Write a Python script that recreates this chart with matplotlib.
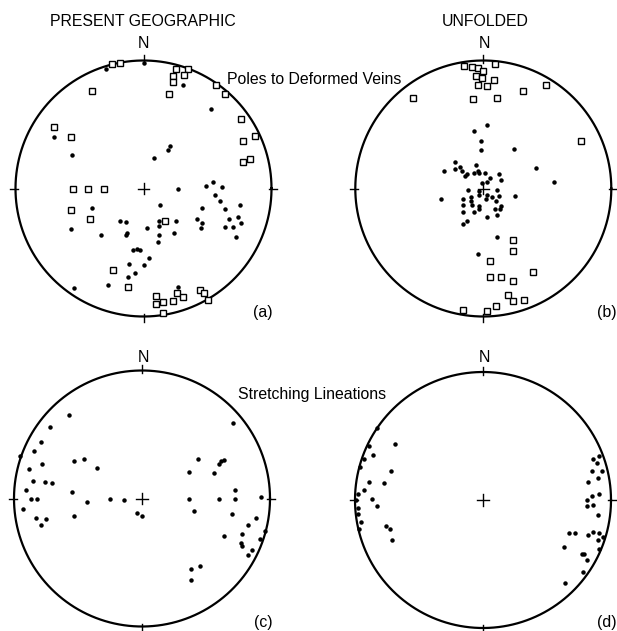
import numpy as np
import matplotlib.pyplot as plt

plt.rcParams['font.family'] = ['Liberation Sans', 'DejaVu Sans']

# poles to deformed veins, present geographic (east, north on a unit net)
geo_vein_sq = [
    (-0.25, 0.97), (-0.18, 0.98), (0.25, 0.93), (0.23, 0.88), (0.23, 0.83),
    (0.20, 0.74), (0.35, 0.93), (0.32, 0.89), (0.57, 0.81), (0.64, 0.74),
    (-0.40, 0.76), (0.76, 0.54), (0.87, 0.41), (0.78, 0.37), (0.83, 0.23),
    (0.78, 0.21), (-0.70, 0.48), (-0.57, 0.40), (-0.55, 0.00), (-0.43, 0.00),
    (-0.31, 0.00), (-0.57, -0.17), (-0.42, -0.24), (0.17, -0.25), (-0.24, -0.64),
    (-0.12, -0.77), (0.26, -0.82), (0.23, -0.88), (0.31, -0.85), (0.10, -0.84),
    (0.10, -0.90), (0.15, -0.89), (0.15, -0.97), (0.44, -0.79), (0.47, -0.82),
    (0.50, -0.87),
]
geo_vein_dot = [
    (-0.29, 0.93), (0.00, 0.98), (0.31, 0.81), (0.53, 0.62), (-0.70, 0.40),
    (-0.56, 0.26), (0.21, 0.33), (0.19, 0.30), (0.08, 0.24), (0.27, 0.00),
    (0.49, 0.02), (0.54, 0.05), (0.61, 0.01), (0.56, -0.05), (0.60, -0.10),
    (0.64, -0.16), (0.75, -0.13), (0.46, -0.15), (0.67, -0.24), (0.74, -0.22),
    (0.64, -0.30), (0.70, -0.30), (0.76, -0.27), (0.72, -0.38), (0.42, -0.24),
    (0.46, -0.27), (0.45, -0.31), (0.13, -0.13), (0.12, -0.25), (0.12, -0.29),
    (0.25, -0.25), (0.12, -0.36), (0.11, -0.42), (0.24, -0.35), (0.03, -0.31),
    (-0.40, -0.15), (-0.57, -0.32), (-0.33, -0.36), (-0.18, -0.25), (-0.14, -0.26),
    (-0.14, -0.36), (-0.13, -0.35), (-0.08, -0.48), (-0.05, -0.47), (-0.03, -0.48),
    (0.04, -0.54), (-0.11, -0.59), (0.00, -0.60), (-0.07, -0.66), (-0.12, -0.69),
    (-0.28, -0.75), (-0.54, -0.78), (0.27, -0.77),
]

# poles to deformed veins, unfolded
unf_vein_sq = [
    (-0.15, 0.96), (-0.09, 0.95), (-0.04, 0.94), (0.00, 0.92), (0.09, 0.97),
    (-0.06, 0.88), (-0.01, 0.86), (-0.04, 0.81), (0.03, 0.80), (0.08, 0.85),
    (-0.08, 0.70), (0.11, 0.71), (0.31, 0.76), (0.49, 0.81), (-0.55, 0.71),
    (0.76, 0.37), (0.23, -0.40), (0.23, -0.49), (0.05, -0.57), (0.39, -0.65),
    (0.05, -0.69), (0.14, -0.69), (0.23, -0.72), (0.19, -0.83), (0.23, -0.88),
    (0.32, -0.87), (0.10, -0.92), (0.03, -0.96), (-0.16, -0.95),
]
unf_vein_dot = [
    (0.03, 0.50), (-0.07, 0.45), (-0.02, 0.37), (-0.02, 0.30), (0.24, 0.31),
    (0.41, 0.16), (0.55, 0.05), (-0.22, 0.21), (-0.31, 0.14), (-0.22, 0.15),
    (-0.18, 0.17), (-0.17, 0.14), (-0.13, 0.11), (-0.14, 0.10), (-0.07, 0.12),
    (-0.06, 0.18), (-0.04, 0.14), (-0.03, 0.12), (0.01, 0.12), (0.05, 0.08),
    (0.12, 0.11), (0.14, 0.07), (-0.01, 0.04), (0.03, 0.05), (-0.03, -0.02),
    (-0.03, -0.05), (0.03, -0.05), (0.02, -0.08), (0.07, -0.07), (0.11, -0.01),
    (0.12, -0.06), (0.10, -0.10), (-0.12, -0.01), (-0.10, -0.07), (-0.10, -0.10),
    (-0.09, -0.13), (-0.16, -0.08), (-0.16, -0.13), (-0.16, -0.18), (-0.07, -0.18),
    (-0.03, -0.14), (-0.03, -0.16), (0.03, -0.22), (0.09, -0.16), (0.14, -0.14),
    (0.13, -0.16), (0.11, -0.21), (-0.13, -0.25), (-0.16, -0.28), (-0.33, -0.08),
    (0.25, -0.06), (0.11, -0.38), (-0.04, -0.51),
]

# stretching lineations, present geographic
geo_lin = [
    (-0.57, 0.65), (-0.72, 0.56), (-0.79, 0.44), (-0.84, 0.37), (-0.95, 0.33),
    (-0.88, 0.23), (-0.78, 0.27), (-0.85, 0.14), (-0.76, 0.13), (-0.70, 0.12),
    (-0.91, 0.07), (-0.87, 0.00), (-0.82, 0.00), (-0.93, -0.08), (-0.83, -0.15),
    (-0.79, -0.21), (-0.75, -0.16), (-0.53, 0.29), (-0.45, 0.31), (-0.35, 0.24),
    (-0.55, 0.05), (-0.43, -0.03), (-0.53, -0.14), (-0.25, 0.00), (-0.14, -0.01),
    (-0.04, -0.11), (0.00, -0.14), (0.71, 0.59), (0.44, 0.31), (0.37, 0.21),
    (0.60, 0.27), (0.62, 0.29), (0.64, 0.30), (0.56, 0.20), (0.37, 0.00),
    (0.60, 0.00), (0.73, 0.00), (0.73, 0.07), (0.93, 0.01), (0.41, -0.10),
    (0.70, -0.12), (0.89, -0.15), (0.83, -0.21), (0.96, -0.25), (0.64, -0.29),
    (0.78, -0.28), (0.77, -0.35), (0.78, -0.37), (0.92, -0.32), (0.86, -0.40),
    (0.83, -0.44), (0.38, -0.55), (0.45, -0.53), (0.38, -0.64),
]

# stretching lineations, unfolded
unf_lin = [
    (-0.83, 0.56), (-0.69, 0.44), (-0.89, 0.42), (-0.86, 0.35), (-0.93, 0.32),
    (-0.96, 0.26), (-0.72, 0.23), (-0.89, 0.14), (-0.77, 0.13), (-0.93, 0.08),
    (-0.98, 0.05), (-0.99, 0.00), (-0.87, 0.01), (-0.83, -0.05), (-0.98, -0.06),
    (-0.98, -0.11), (-0.95, -0.17), (-0.97, -0.23), (-0.76, -0.20), (-0.73, -0.23),
    (-0.71, -0.31), (0.91, 0.34), (0.86, 0.32), (0.89, 0.29), (0.85, 0.23),
    (0.93, 0.23), (0.82, 0.14), (0.90, 0.17), (0.85, 0.03), (0.91, 0.05),
    (0.81, 0.00), (0.86, -0.04), (0.81, -0.05), (0.90, -0.12), (0.67, -0.26),
    (0.72, -0.26), (0.82, -0.27), (0.86, -0.25), (0.91, -0.26), (0.94, -0.29),
    (0.90, -0.31), (0.91, -0.38), (0.63, -0.37), (0.77, -0.42), (0.79, -0.42),
    (0.81, -0.47), (0.78, -0.56), (0.64, -0.65),
]

W, H = 617, 631
R = 128  # net radius in pixels
S = 2 * 1.15 * R


def make_net(cx, cy):
    # axes centred on the net, limits +-1.15 net radius
    ax = fig.add_axes([(cx - S / 2) / W, (H - cy - S / 2) / H, S / W, S / H])
    ax.set_xlim(-1.15, 1.15)
    ax.set_ylim(-1.15, 1.15)
    ax.set_aspect('equal')
    ax.axis('off')
    t = np.linspace(0, 2 * np.pi, 500)
    ax.plot(np.cos(t), np.sin(t), color='black', lw=1.6)
    # ticks at N, S, E, W and centre cross
    ax.plot([0, 0], [0.98, 1.04], color='black', lw=1)
    ax.plot([0, 0], [-0.98, -1.04], color='black', lw=1)
    ax.plot([0.98, 1.04], [0, 0], color='black', lw=1)
    ax.plot([-0.98, -1.04], [0, 0], color='black', lw=1)
    ax.plot([-0.045, 0.045], [0, 0], color='black', lw=1)
    ax.plot([0, 0], [-0.045, 0.045], color='black', lw=1)
    return ax


def squares(ax, pts):
    e, n = np.array(pts).T
    ax.plot(e, n, 's', ms=4.2, mfc='white', mec='black', mew=1.0, clip_on=False)


def dots(ax, pts):
    e, n = np.array(pts).T
    ax.plot(e, n, 'o', ms=2.2, color='black', clip_on=False)


def label(x, y, s, **kw):
    fig.text(x / W, 1 - y / H, s, ha='center', va='center', fontsize=11.4, **kw)


fig = plt.figure(figsize=(W / 100, H / 100), dpi=100)

ax_a = make_net(143.5, 188.5)
dots(ax_a, geo_vein_dot)
squares(ax_a, geo_vein_sq)

ax_b = make_net(483.3, 188.5)
dots(ax_b, unf_vein_dot)
squares(ax_b, unf_vein_sq)

ax_c = make_net(142, 498.5)
dots(ax_c, geo_lin)

ax_d = make_net(483, 500)
dots(ax_d, unf_lin)

# titles and labels
label(143, 21, 'PRESENT GEOGRAPHIC')
label(485, 21, 'UNFOLDED')
label(143, 44, 'N')
label(484, 44, 'N')
label(143, 358, 'N')
label(484, 358, 'N')
label(314, 80, 'Poles to Deformed Veins')
label(312, 395, 'Stretching Lineations')
label(263, 313, '(a)')
label(607, 313, '(b)')
label(263, 623, '(c)')
label(607, 623, '(d)')

fig.savefig('out.png', dpi=100)
